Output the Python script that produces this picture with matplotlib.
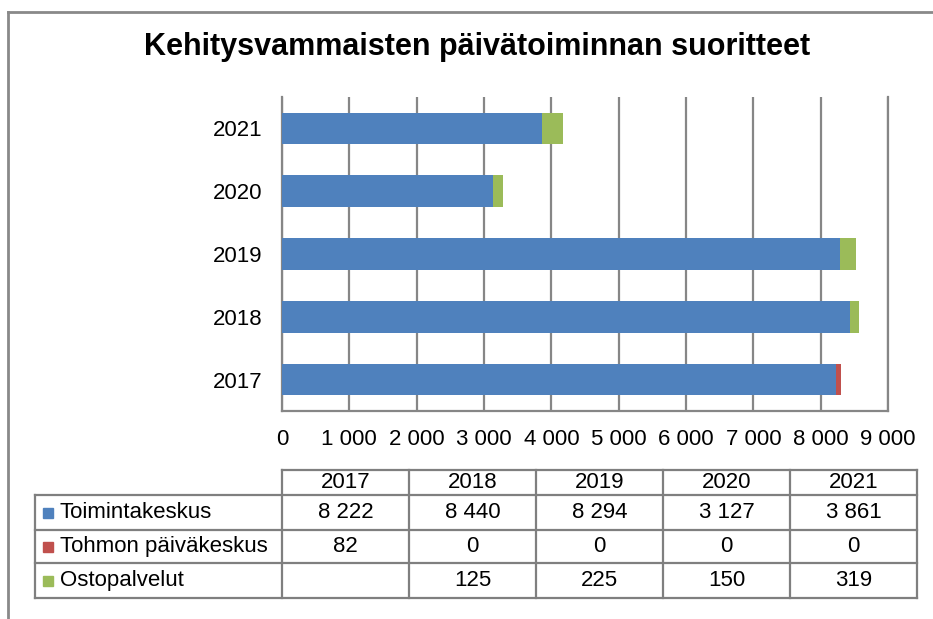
import matplotlib.pyplot as plt

# data
years = ["2017", "2018", "2019", "2020", "2021"]
series_names = ["Toimintakeskus", "Tohmon päiväkeskus", "Ostopalvelut"]
toiminta = [8222, 8440, 8294, 3127, 3861]
tohmo = [82, 0, 0, 0, 0]
osto = [None, 125, 225, 150, 319]
colors = ["#4F81BD", "#C0504D", "#9BBB59"]
xticks = [0, 1000, 2000, 3000, 4000, 5000, 6000, 7000, 8000, 9000]

plt.rcParams["font.family"] = ["Liberation Sans", "DejaVu Sans"]

W, H = 933, 619
fig = plt.figure(figsize=(W / 100, H / 100), dpi=100)

# plot area in pixels
px_l, px_r, px_t, px_b = 282, 888, 97, 411
ax = fig.add_axes([px_l / W, 1 - px_b / H, (px_r - px_l) / W, (px_b - px_t) / H])

ypos = list(range(len(years)))
left = [0] * len(years)
for name, vals, c in zip(series_names, [toiminta, tohmo, osto], colors):
    v = [x if x is not None else 0 for x in vals]
    ax.barh(ypos, v, left=left, height=0.5, color=c, linewidth=0, zorder=3)
    left = [a + b for a, b in zip(left, v)]

ax.set_xlim(0, 9000)
ax.set_ylim(-0.5, len(years) - 0.5)
ax.set_xticks(xticks)
ax.set_xticklabels([f"{t:,}".replace(",", " ") for t in xticks], fontsize=16)
ax.set_yticks(ypos)
ax.set_yticklabels(years, fontsize=16)
ax.tick_params(axis="x", length=0, pad=13)
ax.tick_params(axis="y", length=0, pad=14)
ax.grid(axis="x", color="#868686", linewidth=1.6, zorder=0)
for s in ["left", "bottom", "right"]:
    ax.spines[s].set_color("#868686")
    ax.spines[s].set_linewidth(1.6)
ax.spines["top"].set_visible(False)

# overlay for title, table and frame
ov = fig.add_axes([0, 0, 1, 1], zorder=-1)
ov.set_xlim(0, W)
ov.set_ylim(H, 0)
ov.axis("off")

ov.text(477, 47, "Kehitysvammaisten päivätoiminnan suoritteet",
        fontsize=22, fontweight="bold", ha="center", va="center")

# outer frame
lc = "#898989"
ov.plot([8, 8], [12, H], color=lc, linewidth=2)
ov.plot([8, W], [12, 12], color=lc, linewidth=2)

# data table
tl = 35
cols = [282, 409, 536, 663, 790, 917]
rows = [470, 495, 530, 563, 598]
tc = "#7f7f7f"
tw = 1.6
# horizontal lines
ov.plot([cols[0], cols[-1]], [rows[0], rows[0]], color=tc, linewidth=tw)
for r in rows[1:]:
    ov.plot([tl, cols[-1]], [r, r], color=tc, linewidth=tw)
# vertical lines
ov.plot([tl, tl], [rows[1], rows[-1]], color=tc, linewidth=tw)
for c in cols:
    ov.plot([c, c], [rows[0], rows[-1]], color=tc, linewidth=tw)

for i, y in enumerate(years):
    ov.text((cols[i] + cols[i + 1]) / 2, (rows[0] + rows[1]) / 2, y,
            fontsize=16, ha="center", va="center")

for j, (name, vals, c) in enumerate(zip(series_names, [toiminta, tohmo, osto], colors)):
    yc = (rows[j + 1] + rows[j + 2]) / 2
    ov.add_patch(plt.Rectangle((43, yc - 5), 10, 10, color=c))
    ov.text(60, yc, name, fontsize=16, ha="left", va="center")
    for i, v in enumerate(vals):
        if v is None:
            continue
        ov.text((cols[i] + cols[i + 1]) / 2, yc, f"{v:,}".replace(",", " "),
                fontsize=16, ha="center", va="center")

fig.savefig("out.png", dpi=100)
